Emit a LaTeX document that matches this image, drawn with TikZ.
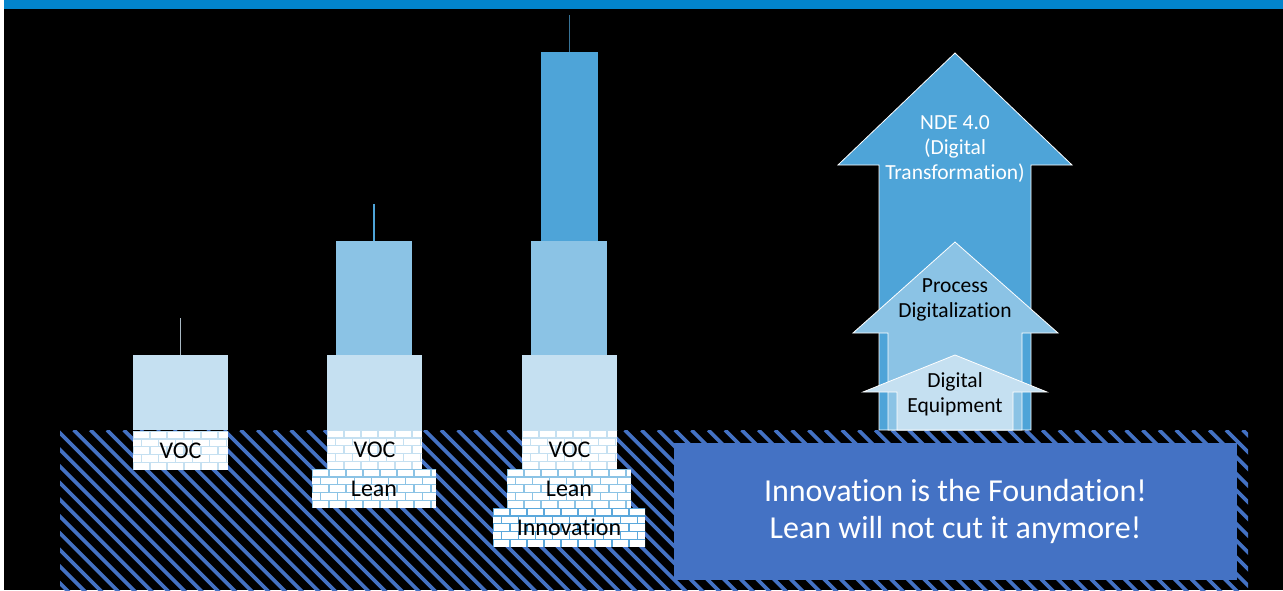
\documentclass[tikz,border=0pt]{standalone}
\usepackage{fontspec}
\setmainfont{Carlito}[Ligatures=NoCommon]
\usetikzlibrary{positioning,calc}
\definecolor{topbar}{RGB}{2,132,204}
\definecolor{ground}{RGB}{68,114,196}
\definecolor{deep}{RGB}{78,164,216}
\definecolor{mid}{RGB}{139,195,229}
\definecolor{pale}{RGB}{197,224,241}
\definecolor{mortar}{RGB}{91,168,220}

\begin{document}
\begin{tikzpicture}[x=1pt, y=-1pt,
    blk/.style={inner sep=0pt, outer sep=0pt, draw=none},
    brick/.style={blk, fill=white, text=black, font=\fontsize{24}{28}\selectfont,
        path picture={
            \coordinate (pw) at (path picture bounding box.north west);
            \foreach \r in {0,...,4}{
                \draw[#1, line width=1.4pt] ([yshift=-\r*7.8pt]pw) -- ++(200pt,0);
                \foreach \c in {0,...,9}
                    \draw[#1, line width=1.4pt] ([xshift={(\c*17+mod(\r,2)*8.5)*1pt}, yshift=-\r*7.8pt]pw) -- ++(0,-7.8pt);
            }}},
    hatch/.style={ground, line width=3.7pt},
    antenna/.style={line width=1.2pt},
    arrowbody/.style={draw=white, line width=0.8pt, line join=miter},
    arrowtext/.style={align=center, font=\fontsize{21.5}{25}\selectfont}
]
    \useasboundingbox (0,0) rectangle (1283,590);
    \fill[black] (0,0) rectangle (1283,590);
    \fill[white] (0,0) rectangle (4,590);
    \fill[topbar] (4,0) rectangle (1283,9);

    % ground
    \begin{scope}
        \clip (60,430) rectangle (1248,590);
        \foreach \i in {0,...,82}
            \draw[hatch] ({-110+\i*16.7},430) -- ++(170,170);
    \end{scope}
    \node[blk, fill=ground, minimum width=563pt, minimum height=137pt, text=white,
          align=center, font=\fontsize{32}{37}\selectfont] (msg) at (955.5,511) {Innovation is the Foundation!\\Lean will not cut it anymore!};

    % building 1
    \node[blk, fill=pale, minimum width=95pt, minimum height=75pt] (b1low) at (180.5,392.5) {};
    \node[brick=pale, minimum width=95pt, minimum height=39pt] (b1voc) at (180.5,450.5) {VOC};
    \coordinate (b1tip) at (180.5,318);
    \draw[antenna, pale!60!gray] (b1low.north) -- (b1tip);

    % building 2
    \node[blk, fill=mid, minimum width=76pt, minimum height=114pt] (b2top) at (374,298) {};
    \node[blk, fill=pale, minimum width=95pt, minimum height=75pt] (b2low) at (374.5,392.5) {};
    \node[brick=pale, minimum width=95pt, minimum height=39pt] (b2voc) at (374.5,449.5) {VOC};
    \node[brick=mid, minimum width=124pt, minimum height=39pt] (b2lean) at (374,488.5) {Lean};
    \coordinate (b2tip) at (374,204);
    \draw[antenna, deep] (b2top.north) -- (b2tip);

    % building 3
    \node[blk, fill=deep, minimum width=57pt, minimum height=189pt] (b3top) at (569.5,146.5) {};
    \node[blk, fill=mid, minimum width=76pt, minimum height=114pt] (b3mid) at (569,298) {};
    \node[blk, fill=pale, minimum width=95pt, minimum height=75pt] (b3low) at (569.5,392.5) {};
    \node[brick=pale, minimum width=95pt, minimum height=39pt] (b3voc) at (569.5,449.5) {VOC};
    \node[brick=mid, minimum width=124pt, minimum height=39pt] (b3lean) at (569,488.5) {Lean};
    \node[brick=mortar, minimum width=152pt, minimum height=39pt] (b3inno) at (569,527.5) {Innovation};
    \coordinate (b3tip) at (569.5,15);
    \draw[antenna, deep!70!black] (b3top.north) -- (b3tip);

    % arrows
    \draw[arrowbody, fill=deep] (879,430) -- (879,165) -- (838,165) -- (955,53) -- (1072,165) -- (1031,165) -- (1031,430) -- cycle;
    \draw[arrowbody, fill=mid] (888,430) -- (888,333) -- (853,333) -- (955,242) -- (1058,333) -- (1022,333) -- (1022,430) -- cycle;
    \draw[arrowbody, fill=pale] (897,430) -- (897,392) -- (863,392) -- (955,355) -- (1047,392) -- (1013,392) -- (1013,430) -- cycle;
    \node[arrowtext, text=white] (nde) at (955,149) {NDE 4.0\\(Digital\\Transformation)};
    \node[arrowtext] (proc) at (955,300) {Process\\Digitalization};
    \node[arrowtext] (equip) at (955,394.5) {Digital\\Equipment};
\end{tikzpicture}
\end{document}
